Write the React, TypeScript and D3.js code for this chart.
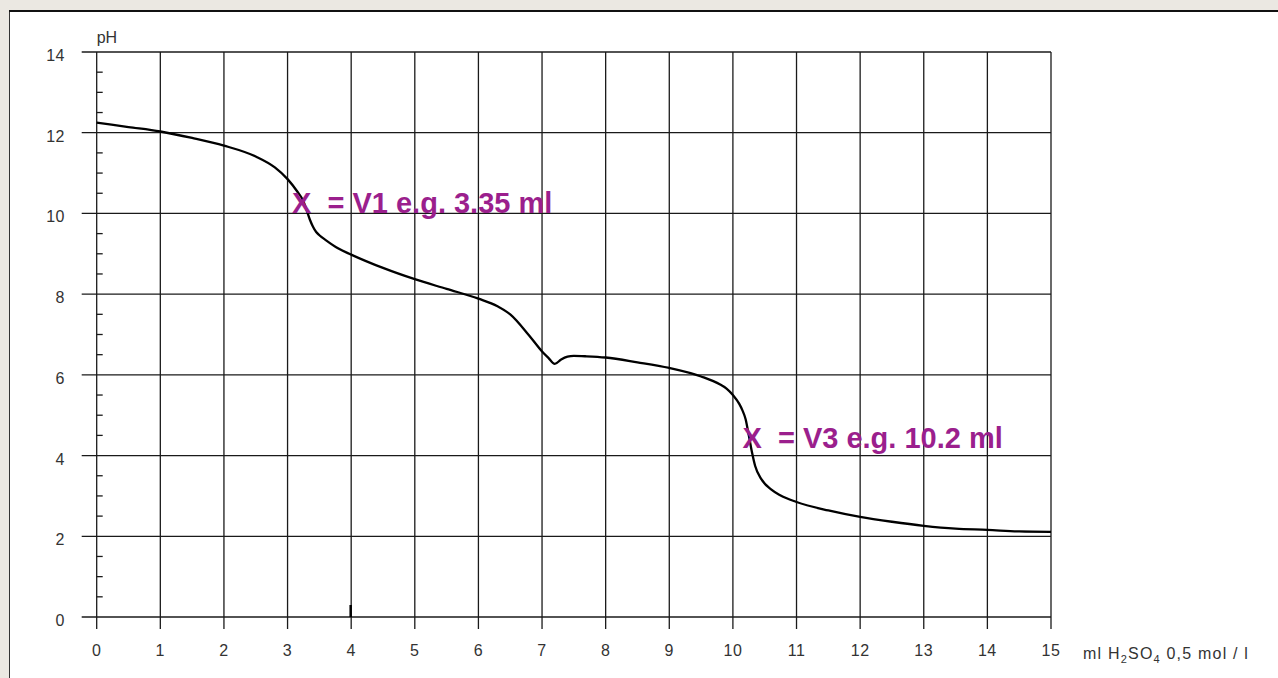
import React, { useEffect, useRef } from "react";
import * as d3 from "d3";

// titration curve
const volume = [
  0, 0.5, 1, 1.5, 2, 2.5, 2.8, 3, 3.15, 3.25, 3.3, 3.35, 3.4, 3.45, 3.5, 3.6,
  3.8, 4, 4.5, 5, 5.5, 6, 6.3, 6.5, 6.8, 7, 7.1, 7.2, 7.3, 7.4, 7.5, 7.7, 8,
  8.5, 9, 9.5, 9.8, 9.9, 10, 10.1, 10.15, 10.2, 10.25, 10.3, 10.35, 10.45,
  10.6, 10.75, 11, 11.5, 12, 12.5, 13, 13.5, 14, 14.5, 15,
];
const pH = [
  12.25, 12.14, 12.03, 11.87, 11.68, 11.41, 11.14, 10.85, 10.55, 10.3, 10.08,
  9.85, 9.67, 9.54, 9.46, 9.34, 9.13, 8.98, 8.65, 8.37, 8.13, 7.89, 7.7, 7.5,
  6.97, 6.58, 6.42, 6.27, 6.38, 6.45, 6.47, 6.46, 6.43, 6.31, 6.17, 5.96, 5.76,
  5.66, 5.5, 5.28, 5.12, 4.9, 4.5, 4.08, 3.74, 3.41, 3.16, 3.01, 2.85, 2.64,
  2.48, 2.36, 2.26, 2.19, 2.16, 2.12, 2.11,
];

const xTicks = d3.range(0, 16);
const yTicks = [0, 2, 4, 6, 8, 10, 12, 14];
const yMinor = d3.range(0.5, 14, 0.5).filter((v) => v % 2 !== 0);

const notes = [
  { x: 3.07, y: 10.0, text: "X  = V1 e.g. 3.35 ml" },
  { x: 10.15, y: 4.2, text: "X  = V3 e.g. 10.2 ml" },
];

const App = () => {
  const ref = useRef<HTMLDivElement>(null);

  useEffect(() => {
    drawChart();
  }, []);

  const drawChart = () => {
    const width = 1278,
      height = 678;

    const svg = d3
      .select(ref.current)
      .html("")
      .append("svg")
      .attr("width", width)
      .attr("height", height)
      .style("display", "block");

    // page background and white panel
    svg.append("rect").attr("width", width).attr("height", height).attr("fill", "#ebe8e2");
    svg
      .append("rect")
      .attr("x", 9.5)
      .attr("y", 10.5)
      .attr("width", 1300)
      .attr("height", 700)
      .attr("fill", "#fff")
      .attr("stroke", "#333")
      .attr("stroke-width", 1);
    svg
      .append("line")
      .attr("x1", 9)
      .attr("x2", width)
      .attr("y1", 11)
      .attr("y2", 11)
      .attr("stroke", "#111")
      .attr("stroke-width", 2);

    const x = d3.scaleLinear().domain([0, 15]).range([96.7, 1051]);
    const y = d3.scaleLinear().domain([0, 14]).range([617, 52]);

    const grid = svg.append("g").attr("stroke", "#1a1a1a").attr("stroke-width", 1.3);

    grid
      .selectAll("line.v")
      .data(xTicks)
      .join("line")
      .attr("x1", (d) => x(d))
      .attr("x2", (d) => x(d))
      .attr("y1", y(14))
      .attr("y2", y(0) + 12);

    grid
      .selectAll("line.h")
      .data(yTicks)
      .join("line")
      .attr("x1", x(0) - 15)
      .attr("x2", x(15))
      .attr("y1", (d) => y(d))
      .attr("y2", (d) => y(d));

    grid
      .selectAll("line.m")
      .data(yMinor)
      .join("line")
      .attr("x1", x(0))
      .attr("x2", x(0) + 6)
      .attr("y1", (d) => y(d))
      .attr("y2", (d) => y(d));

    // small heavy stub on the 4 ml gridline near the base
    svg
      .append("line")
      .attr("x1", x(4) - 0.5)
      .attr("x2", x(4) - 0.5)
      .attr("y1", y(0) - 12)
      .attr("y2", y(0))
      .attr("stroke", "#000")
      .attr("stroke-width", 2.5);

    const font = "'Liberation Sans', Arial, sans-serif";

    svg
      .append("g")
      .selectAll("text")
      .data(yTicks)
      .join("text")
      .attr("x", 65)
      .attr("y", (d) => y(d) + 9)
      .attr("text-anchor", "end")
      .style("font-family", font)
      .style("font-size", "16px")
      .style("letter-spacing", "0.5px")
      .attr("fill", "#333")
      .text((d) => d);

    svg
      .append("g")
      .selectAll("text")
      .data(xTicks)
      .join("text")
      .attr("x", (d) => x(d))
      .attr("y", y(0) + 39)
      .attr("text-anchor", "middle")
      .style("font-family", font)
      .style("font-size", "16px")
      .style("letter-spacing", "0.5px")
      .attr("fill", "#333")
      .text((d) => d);

    svg
      .append("text")
      .attr("x", x(0))
      .attr("y", 43)
      .style("font-family", font)
      .style("font-size", "16px")
      .attr("fill", "#333")
      .text("pH");

    const title = svg
      .append("text")
      .attr("x", 1083)
      .attr("y", y(0) + 42)
      .style("font-family", font)
      .style("font-size", "16px")
      .style("letter-spacing", "1.2px")
      .attr("fill", "#333");
    title.append("tspan").text("ml H");
    title.append("tspan").attr("dy", 4).style("font-size", "11px").text("2");
    title.append("tspan").attr("dy", -4).text("SO");
    title.append("tspan").attr("dy", 4).style("font-size", "11px").text("4");
    title.append("tspan").attr("dy", -4).text(" 0,5 mol / l");

    const line = d3
      .line<number>()
      .x((d) => x(d))
      .y((_, i) => y(pH[i]))
      .curve(d3.curveMonotoneX);

    svg
      .append("path")
      .attr("d", line(volume))
      .attr("fill", "none")
      .attr("stroke", "#000")
      .attr("stroke-width", 2.3);

    svg
      .append("g")
      .selectAll("text")
      .data(notes)
      .join("text")
      .attr("x", (d) => x(d.x))
      .attr("y", (d) => y(d.y))
      .attr("fill", "#9b1f8d")
      .style("font-family", font)
      .style("font-size", "29px")
      .style("font-weight", "bold")
      .style("white-space", "pre")
      .text((d) => d.text);
  };

  return <div ref={ref} style={{ position: "fixed", left: 0, top: 0 }}></div>;
};

export default App;
